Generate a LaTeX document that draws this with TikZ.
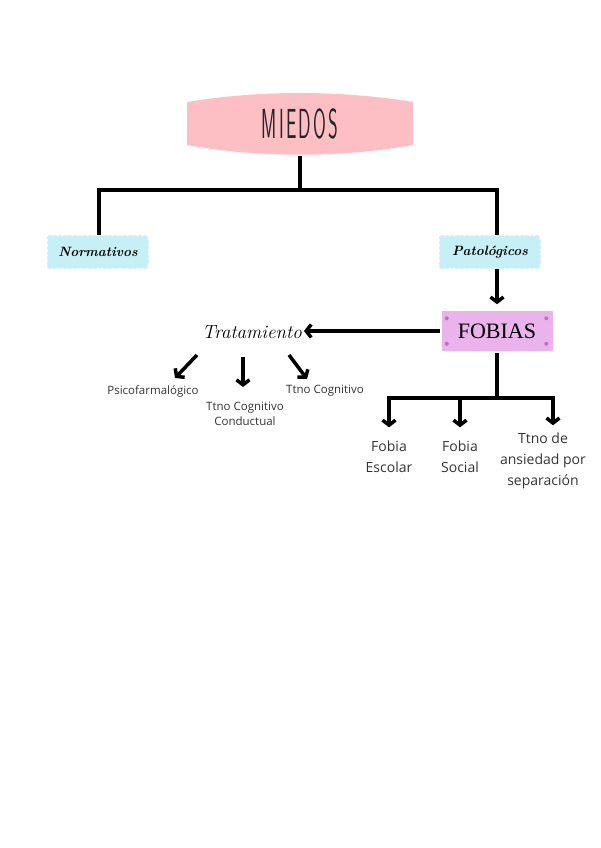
\documentclass[tikz,border=0pt]{standalone}
\usepackage{fontspec}
\newfontfamily\labelfont{Open Sans}
\newfontfamily\titlefont{Liberation Serif}
\usepackage{tikz}
\usetikzlibrary{arrows.meta}
\usepackage{xcolor}
\definecolor{miedospink}{HTML}{FDBFC4}
\definecolor{scallopblue}{HTML}{C7EFF6}
\definecolor{fobiaspink}{HTML}{EBB3EB}
\definecolor{dotpurple}{HTML}{C36CC6}

\begin{document}
\begin{tikzpicture}[x=1pt,y=-1pt,line width=3.5pt,
  arr/.style={-{Straight Barb[length=5pt,width=13pt]}},
  scallop/.style={fill=scallopblue,draw=scallopblue,line width=6pt,line cap=round,dash pattern=on 0pt off 5pt,minimum width=96pt,minimum height=28pt,inner sep=0pt,font=\fontsize{13.5}{13.5}\selectfont\bfseries\itshape},
  leaf/.style={font=\labelfont\fontsize{11.5}{15.5}\selectfont,inner sep=0pt,align=center,text=black!80},
  fobialeaf/.style={font=\labelfont\fontsize{14}{21}\selectfont,inner sep=0pt,align=center,text=black!80}]
\useasboundingbox (0,0) rectangle (600,848);
\fill[miedospink] (187,102) .. controls (260,90) and (340,90) .. (413,102) -- (413,145) .. controls (340,158) and (260,158) .. (187,145) -- cycle;
\node[minimum width=226pt,minimum height=61pt,inner sep=0pt,text=black!85,font=\sffamily\fontsize{42}{42}\selectfont] (miedos) at (300,124) {\scalebox{0.44}[1]{M\hspace{5pt}I\hspace{5pt}E\hspace{5pt}D\hspace{5pt}O\hspace{5pt}S}};
\node[scallop] (norm) at (98,252) {Normativos};
\node[scallop] (pato) at (490,252) {Patológicos};
\node[fill=fobiaspink,minimum width=111pt,minimum height=40pt,font=\titlefont\fontsize{22}{22}\selectfont] (fobias) at (497,331) {FOBIAS};
\fill[dotpurple] ([shift={(7,9)}]fobias.north west) circle (2pt);
\fill[dotpurple] ([shift={(-8,9)}]fobias.north east) circle (2pt);
\fill[dotpurple] ([shift={(7,-9)}]fobias.south west) circle (2pt);
\fill[dotpurple] ([shift={(-8,-9)}]fobias.south east) circle (2pt);
\node[font=\fontsize{19}{19}\selectfont\itshape] (trat) at (252,332) {Tratamiento};
\node[leaf] (psico) at (153,391) {Psicofarmalógico};
\node[leaf] (ttcc) at (245,414) {Ttno Cognitivo\\Conductual};
\node[leaf] (tcog) at (325,391) {Ttno Cognitivo};
\node[fobialeaf] (escolar) at (389,457) {Fobia\\Escolar};
\node[fobialeaf] (social) at (460,457) {Fobia\\Social};
\node[fobialeaf] (ansiedad) at (543,461) {Ttno de\\ansiedad por\\separación};
\coordinate (split) at (300,190);
\coordinate (fsplit) at (497,398);
\draw (miedos.south) -- (split);
\draw ([xshift=1pt]norm.north) |- (split) -| ([xshift=7pt]pato.north);
\draw[arr,shorten >=5pt] ([xshift=7pt]pato.south) -- (fobias.north);
\draw[arr] (fobias.west) -- ([shift={(52,-1)}]trat.center);
\draw[arr] ([shift={(-55,23)}]trat.center) -- ([shift={(22,-13)}]psico.center);
\draw[arr] ([shift={(-9,25)}]trat.center) -- ([shift={(-2,-27)}]ttcc.center);
\draw[arr] ([shift={(37,23)}]trat.center) -- ([shift={(-18,-12)}]tcog.center);
\draw (fobias.south) -- (fsplit);
\draw[arr] (fsplit) -| ([yshift=12pt]escolar.north);
\draw[arr] (fsplit) -| ([yshift=12pt]social.north);
\draw[arr] (fsplit) -| ([xshift=10pt,yshift=6pt]ansiedad.north);
\end{tikzpicture}
\end{document}
